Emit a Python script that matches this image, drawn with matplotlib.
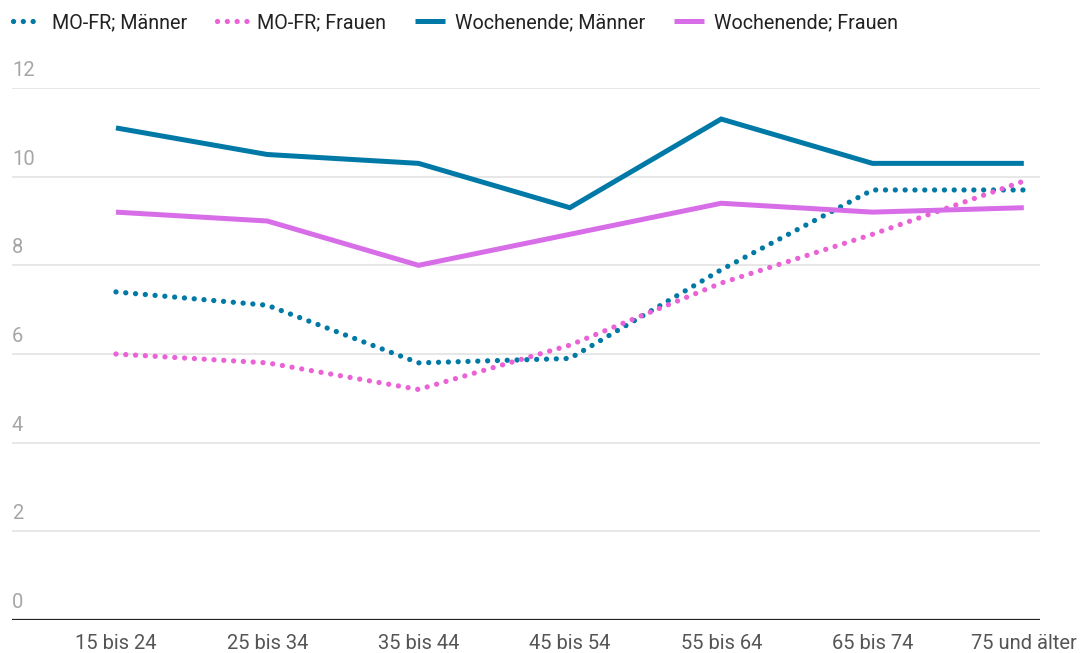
import matplotlib.pyplot as plt
from matplotlib.transforms import blended_transform_factory

plt.rcParams['font.family'] = ['Roboto', 'DejaVu Sans']

# Data
ages = ["15 bis 24", "25 bis 34", "35 bis 44", "45 bis 54",
        "55 bis 64", "65 bis 74", "75 und älter"]
mofr_maenner = [7.4, 7.1, 5.8, 5.9, 7.9, 9.7, 9.7]
mofr_frauen = [6.0, 5.8, 5.2, 6.2, 7.6, 8.7, 9.9]
we_maenner = [11.1, 10.5, 10.3, 9.3, 11.3, 10.3, 10.3]
we_frauen = [9.2, 9.0, 8.0, 8.7, 9.4, 9.2, 9.3]
yticks = [0, 2, 4, 6, 8, 10, 12]

teal = "#0079a6"
pink = "#ea62d6"
violet = "#d76ee8"

fig = plt.figure(figsize=(10.9, 6.53), dpi=100)
ax = fig.add_axes([12/1090, 1 - 620/653, (1040 - 12)/1090, (620 - 88)/653])

x = list(range(len(ages)))
dots = (0, (0.01, 1.85))
ax.plot(x, mofr_maenner, color=teal, lw=3.8, linestyle=dots,
        dash_capstyle="round", label="MO-FR; Männer", zorder=3)
ax.plot(x, mofr_frauen, color=pink, lw=3.8, linestyle=dots,
        dash_capstyle="round", label="MO-FR; Frauen", zorder=3)
ax.plot(x, we_maenner, color=teal, lw=3.6, solid_joinstyle="miter",
        solid_capstyle="butt", label="Wochenende; Männer", zorder=3)
ax.plot(x, we_frauen, color=violet, lw=3.6, solid_joinstyle="miter",
        solid_capstyle="butt", label="Wochenende; Frauen", zorder=3)

ax.set_xlim(-0.687, 6.107)
ax.set_ylim(0, 12)

# gridlines and y labels above them
for t in yticks:
    if t > 0:
        ax.axhline(t, color="#e3e3e3", lw=1.2, zorder=1)
tr = blended_transform_factory(ax.transAxes, ax.transData)
for t in yticks:
    ax.text(0.0, t + 0.18, str(t), transform=tr, ha="left", va="bottom",
            fontsize=14.5, color="#a6a6a6")

ax.axhline(0, color="#222222", lw=1.6, zorder=2)

ax.set_yticks([])
ax.set_xticks(x)
ax.set_xticklabels(ages, fontsize=14.5, color="#555555")
ax.tick_params(axis="x", length=0, pad=10)
for s in ax.spines.values():
    s.set_visible(False)

leg = fig.legend(loc="upper left", bbox_to_anchor=(0.0, 1.0), ncol=4,
                 frameon=False, fontsize=14.2, handlelength=1.5,
                 handletextpad=0.5, columnspacing=1.5,
                 borderaxespad=0.25)
for t in leg.get_texts():
    t.set_color("#222222")

fig.savefig("out.png", dpi=100)
